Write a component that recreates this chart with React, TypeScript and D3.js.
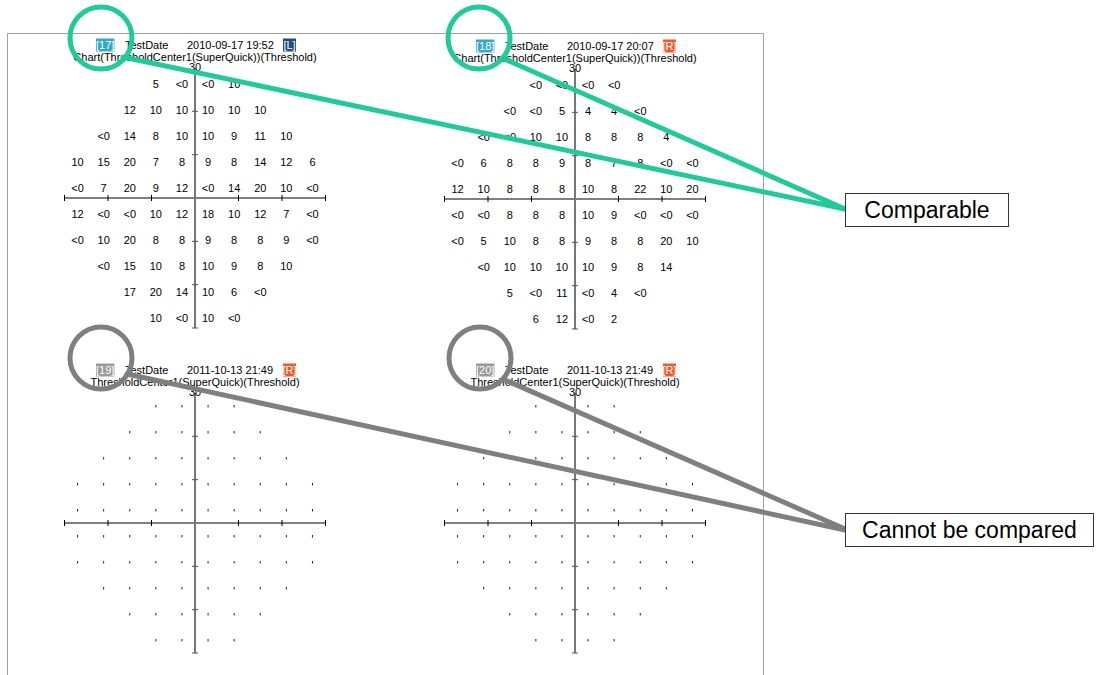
import * as d3 from 'd3'

// visual field grid (degrees)
const ROW_Y = [27, 21, 15, 9, 3, -3, -9, -15, -21, -27]
const ROW_X: number[][] = [
  [-9, -3, 3, 9],
  [-15, -9, -3, 3, 9, 15],
  [-21, -15, -9, -3, 3, 9, 15, 21],
  [-27, -21, -15, -9, -3, 3, 9, 15, 21, 27],
  [-27, -21, -15, -9, -3, 3, 9, 15, 21, 27],
  [-27, -21, -15, -9, -3, 3, 9, 15, 21, 27],
  [-27, -21, -15, -9, -3, 3, 9, 15, 21, 27],
  [-21, -15, -9, -3, 3, 9, 15, 21],
  [-15, -9, -3, 3, 9, 15],
  [-9, -3, 3, 9],
]
const AXIS_TICKS = [-30, -20, -10, 0, 10, 20, 30]
const V_TICKS = [-30, -20, -10, 10, 20]

const VALUES_17 = [
  ['5', '<0', '<0', '10'],
  ['12', '10', '10', '10', '10', '10'],
  ['<0', '14', '8', '10', '10', '9', '11', '10'],
  ['10', '15', '20', '7', '8', '9', '8', '14', '12', '6'],
  ['<0', '7', '20', '9', '12', '<0', '14', '20', '10', '<0'],
  ['12', '<0', '<0', '10', '12', '18', '10', '12', '7', '<0'],
  ['<0', '10', '20', '8', '8', '9', '8', '8', '9', '<0'],
  ['<0', '15', '10', '8', '10', '9', '8', '10'],
  ['17', '20', '14', '10', '6', '<0'],
  ['10', '<0', '10', '<0'],
]
const VALUES_18 = [
  ['<0', '<0', '<0', '<0'],
  ['<0', '<0', '5', '4', '4', '<0'],
  ['<0', '<0', '10', '10', '8', '8', '8', '4'],
  ['<0', '6', '8', '8', '9', '8', '7', '8', '<0', '<0'],
  ['12', '10', '8', '8', '8', '10', '8', '22', '10', '20'],
  ['<0', '<0', '8', '8', '8', '10', '9', '<0', '<0', '<0'],
  ['<0', '5', '10', '8', '8', '9', '8', '8', '20', '10'],
  ['<0', '10', '10', '10', '10', '9', '8', '14'],
  ['5', '<0', '11', '<0', '4', '<0'],
  ['6', '12', '<0', '2'],
]

const FONT = '"Liberation Sans", Arial, sans-serif'

type PanelProps = {
  cx: number
  cy: number
  id: string
  idColor: string
  date: string
  eye: string
  eyeColor: string
  title: string
  values?: string[][]
}

function Panel({ cx, cy, id, idColor, date, eye, eyeColor, title, values }: PanelProps) {
  const x = d3.scaleLinear().domain([-30, 30]).range([cx - 130.5, cx + 130.5])
  const y = d3.scaleLinear().domain([-30, 30]).range([cy + 130, cy - 130])
  const hy = cy - 153
  const idW = id.length * 4.6
  return (
    <g fontFamily={FONT} fontSize={11}>
      {/* header */}
      <rect x={cx - 99} y={hy - 6.5} width={idW} height={13} fill={idColor} />
      <text x={cx - 99 + idW / 2} y={hy + 4} fill="#fff" textAnchor="middle">{id}</text>
      <text x={cx - 70} y={hy + 4}>TestDate</text>
      <text x={cx - 8} y={hy + 4}>{date}</text>
      <rect x={cx + 88} y={hy - 6.5} width={13} height={13} fill={eyeColor} />
      <text x={cx + 94.5} y={hy + 4} fill="#fff" textAnchor="middle">[{eye}]</text>
      <text x={cx} y={cy - 137} textAnchor="middle">{title}</text>

      {/* axes */}
      <line x1={x(-30)} x2={x(30)} y1={y(0)} y2={y(0)} stroke="#000" />
      {AXIS_TICKS.map(t => (
        <line key={t} x1={x(t)} x2={x(t)} y1={y(0) - 3} y2={y(0) + 3} stroke="#000" />
      ))}
      <line x1={x(0)} x2={x(0)} y1={y(30)} y2={y(-30)} stroke="#777" strokeWidth={2} />
      {V_TICKS.map(t => (
        <line key={t} x1={x(0) - 3} x2={x(0) + 3} y1={y(t)} y2={y(t)} stroke="#555" />
      ))}
      <text x={x(0)} y={y(30) + 3} textAnchor="middle">30</text>

      {/* points */}
      {ROW_Y.map((ry, i) =>
        ROW_X[i].map((rx, j) =>
          values ? (
            <text key={`${i}-${j}`} x={x(rx)} y={y(ry) + 7} textAnchor="middle">{values[i][j]}</text>
          ) : (
            <rect key={`${i}-${j}`} x={x(rx) - 0.5} y={y(ry) - 1} width={1} height={2.5} fill="#222" />
          )
        )
      )}
    </g>
  )
}

const TEAL = '#22c99a'
const GRAY = '#7f7f7f'

export default function App() {
  return (
    <svg width={1096} height={675} style={{ position: 'absolute', left: 0, top: 0, background: '#fff' }}>
      <rect x={0} y={0} width={1096} height={675} fill="#fff" />
      <path d="M7.5,680 V33.5 H763.5 V680" fill="none" stroke="#a0a0a0" />

      <Panel cx={195} cy={198} id="[17]" idColor="#36a9c6" date="2010-09-17 19:52" eye="L" eyeColor="#1f4f7c"
        title="Chart(ThresholdCenter1(SuperQuick))(Threshold)" values={VALUES_17} />
      <Panel cx={575} cy={199} id="[18]" idColor="#36a9c6" date="2010-09-17 20:07" eye="R" eyeColor="#f2582a"
        title="Chart(ThresholdCenter1(SuperQuick))(Threshold)" values={VALUES_18} />
      <Panel cx={195} cy={523} id="[19]" idColor="#9a9a9a" date="2011-10-13 21:49" eye="R" eyeColor="#f2582a"
        title="ThresholdCenter1(SuperQuick)(Threshold)" />
      <Panel cx={575} cy={523} id="[20]" idColor="#9a9a9a" date="2011-10-13 21:49" eye="R" eyeColor="#f2582a"
        title="ThresholdCenter1(SuperQuick)(Threshold)" />

      {/* callouts */}
      <g fill="none" strokeWidth={5} strokeLinecap="round">
        <circle cx={101} cy={38} r={31} stroke={TEAL} />
        <circle cx={479} cy={38} r={31} stroke={TEAL} />
        <line x1={123} y1={57} x2={845} y2={209} stroke={TEAL} />
        <line x1={502} y1={58} x2={845} y2={209} stroke={TEAL} />
        <circle cx={101} cy={358} r={31} stroke={GRAY} />
        <circle cx={480} cy={358} r={31} stroke={GRAY} />
        <line x1={127} y1={374} x2={845} y2={530} stroke={GRAY} />
        <line x1={505} y1={380} x2={845} y2={529} stroke={GRAY} />
      </g>
      <g fontFamily={FONT} fontSize={23}>
        <rect x={845.5} y={193.5} width={163} height={33} fill="#fff" stroke="#333" />
        <text x={927} y={218} textAnchor="middle">Comparable</text>
        <rect x={845.5} y={513.5} width={248} height={33} fill="#fff" stroke="#333" />
        <text x={969.5} y={538} textAnchor="middle">Cannot be compared</text>
      </g>
    </svg>
  )
}
